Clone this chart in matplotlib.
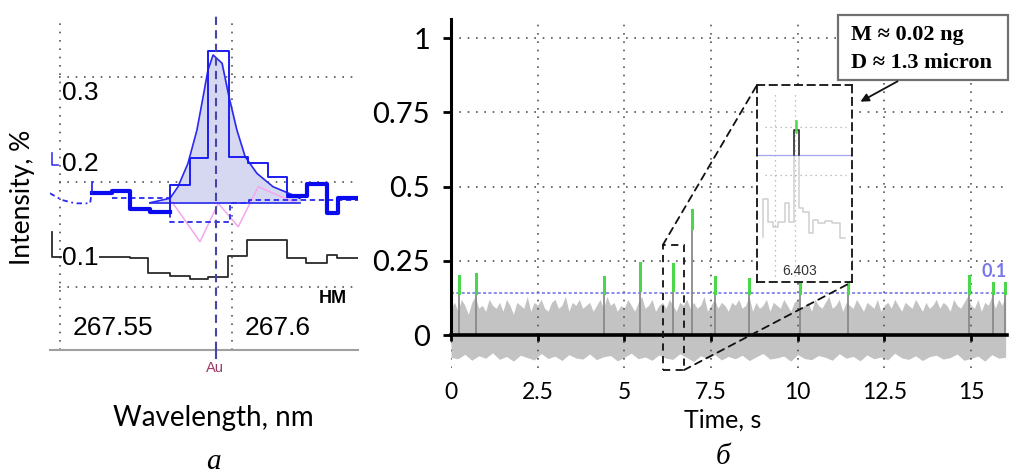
import numpy as np
import matplotlib
matplotlib.use('Agg')
import matplotlib.pyplot as plt
from matplotlib.patches import Rectangle, ConnectionPatch, FancyArrowPatch

plt.rcParams['font.family'] = ['Lato', 'DejaVu Sans']

W, H = 1012, 473

# ---------------- panel a : spectrum ----------------
wl_ticks = [267.55, 267.6]
wl_tick_labels = ['267.55', '267.6']
int_grid = [0.1, 0.2, 0.3]
int_labels = ['0.3', '0.2', '0.1']
au_line = 267.5954

black_x = [267.5478, 267.5478, 267.5705, 267.5757, 267.5821, 267.5879, 267.5932,
           267.5989, 267.6044, 267.6161, 267.6216, 267.6277, 267.6306, 267.6373]
black_y = [0.1521, 0.1283, 0.1273, 0.1130, 0.1101, 0.1073, 0.1092,
           0.1292, 0.1445, 0.1273, 0.1226, 0.1302, 0.1273, 0.1273]

thick_left_x = [267.5593, 267.5652, 267.5705, 267.5763, 267.5821]
thick_left_y = [0.1890, 0.1911, 0.1737, 0.1714, 0.1714]
thick_right_x = [267.6167, 267.6218, 267.6277, 267.6310, 267.6373]
thick_right_y = [0.1864, 0.1978, 0.1699, 0.1848, 0.1848]

start_x = [267.5593, 267.5593]
start_y = [0.2000, 0.1890]
mark_x = [267.5478, 267.5478, 267.5496]
mark_y = [0.2273, 0.2159, 0.2159]

hist_x = [267.5821, 267.5821, 267.5879, 267.5932, 267.5993, 267.6048, 267.6106, 267.6160, 267.6167]
hist_y = [0.1714, 0.1969, 0.2223, 0.3248, 0.2238, 0.2181, 0.2048, 0.1857, 0.1864]

curve_x = [267.5763, 267.5821, 267.5844, 267.5873, 267.5899, 267.5917, 267.5931, 267.5946,
           267.5972, 267.5992, 267.6015, 267.6039, 267.6073, 267.6120, 267.6178, 267.6198]
curve_y = [0.1800, 0.1842, 0.1952, 0.2175, 0.2492, 0.2810, 0.3064, 0.3207,
           0.3128, 0.2810, 0.2492, 0.2238, 0.2080, 0.1952, 0.1873, 0.1842]
baseline = 0.1800

dash_x = [267.5652, 267.5821, 267.5821, 267.5995, 267.5995, 267.6050, 267.6050, 267.6373]
dash_y = [0.1845, 0.1845, 0.1619, 0.1619, 0.1794, 0.1794, 0.1830, 0.1830]
dot_x = [267.5472, 267.5507, 267.5545, 267.5589, 267.5593]
dot_y = [0.1890, 0.1826, 0.1794, 0.1794, 0.1890]

pink_x = [267.5826, 267.5908, 267.5961, 267.6019, 267.6077, 267.6189]
pink_y = [0.1810, 0.1429, 0.1794, 0.1571, 0.1952, 0.1794]

# ---------------- panel b : time signal ----------------
time_ticks = [0, 2.5, 5, 7.5, 10, 12.5, 15]
time_labels = ['0', '2.5', '5', '7.5', '10', '12.5', '15']
sig_ticks = [0, 0.25, 0.5, 0.75, 1]
sig_labels = ['0', '0.25', '0.5', '0.75', '1']
threshold = 0.141

noise_upper = [
    0.09, 0.11, 0.08, 0.12, 0.10, 0.07, 0.11, 0.13, 0.09, 0.10,
    0.08, 0.12, 0.10, 0.09, 0.11, 0.08, 0.12, 0.10, 0.07, 0.11,
    0.10, 0.09, 0.13, 0.08, 0.11, 0.10, 0.12, 0.09, 0.08, 0.11,
    0.12, 0.09, 0.10, 0.13, 0.08, 0.11, 0.10, 0.12, 0.09, 0.10,
    0.11, 0.08, 0.10, 0.12, 0.09, 0.13, 0.10, 0.11, 0.08, 0.10,
    0.09, 0.12, 0.10, 0.08, 0.11, 0.13, 0.09, 0.10, 0.12, 0.08,
    0.10, 0.11, 0.09, 0.12, 0.10, 0.08, 0.11, 0.10, 0.12, 0.09,
    0.11, 0.09, 0.10, 0.13, 0.08, 0.10, 0.12, 0.09, 0.11, 0.10,
    0.08, 0.11, 0.10, 0.12, 0.09, 0.10, 0.13, 0.08, 0.11, 0.09,
    0.10, 0.12, 0.08, 0.11, 0.10, 0.09, 0.12, 0.10, 0.08, 0.11,
    0.12, 0.09, 0.10, 0.11, 0.08, 0.12, 0.10, 0.09, 0.11, 0.13,
    0.09, 0.10, 0.12, 0.08, 0.11, 0.10, 0.09, 0.12, 0.10, 0.08,
    0.11, 0.10, 0.09, 0.12, 0.08, 0.10, 0.11, 0.09, 0.12, 0.10,
    0.08, 0.11, 0.10, 0.09, 0.12, 0.10, 0.08, 0.11, 0.09, 0.10,
    0.12, 0.09, 0.11, 0.10, 0.08, 0.12, 0.10, 0.09, 0.11, 0.13,
    0.10, 0.09, 0.12, 0.08, 0.11, 0.10, 0.13, 0.09, 0.12, 0.10, 0.14]
noise_lower = [
    -0.075, -0.080, -0.065, -0.085, -0.070, -0.078, -0.060, -0.082, -0.072, -0.088,
    -0.068, -0.076, -0.084, -0.062, -0.079, -0.071, -0.086, -0.066, -0.077, -0.081,
    -0.064, -0.083, -0.073, -0.069, -0.087, -0.075, -0.061, -0.080, -0.074, -0.085,
    -0.067, -0.078, -0.082, -0.063, -0.076, -0.089, -0.070, -0.079, -0.065, -0.084,
    -0.072, -0.080, -0.068, -0.086, -0.074, -0.062, -0.081, -0.077, -0.071, -0.088,
    -0.066, -0.079, -0.083, -0.069, -0.075, -0.085, -0.063, -0.078, -0.072, -0.087,
    -0.067, -0.080, -0.074, -0.084, -0.061, -0.077, -0.082, -0.070, -0.086, -0.073,
    -0.068, -0.081, -0.076, -0.064, -0.085, -0.079, -0.071, -0.088, -0.066, -0.078, -0.075]

peak_t = [0.23, 0.72, 4.41, 5.45, 6.40, 6.94, 7.61, 8.60, 10.07, 11.45, 14.94, 15.63, 15.98]
peak_top = [0.199, 0.205, 0.195, 0.243, 0.240, 0.420, 0.195, 0.190, 0.175, 0.175, 0.200, 0.175, 0.175]
peak_green_lo = [0.141, 0.141, 0.141, 0.150, 0.150, 0.360, 0.141, 0.141, 0.141, 0.141, 0.141, 0.141, 0.141]

zoom_t = [6.11, 6.72]
zoom_i = [-0.118, 0.303]

# inset (zoom around the particle at 6.403 s)
ins_edges = [6.3366, 6.3366, 6.3466, 6.3566, 6.3666, 6.380, 6.3886, 6.398, 6.408, 6.4166,
             6.4286, 6.4366, 6.4466, 6.460, 6.4734, 6.490, 6.500]
ins_levels = [-0.030, 0.0489, 0.0023, -0.0081, 0.0023, 0.0405, 0.0023, 0.193, 0.0301, 0.0231,
              -0.0219, 0.0058, 0.0002, 0.0043, 0.0002, -0.0323, -0.0323]
spike_t = [6.398, 6.408]
spike_top = 0.193
spike_green = [0.189, 0.212]
spike_center = 6.403
ins_xgrid = [6.36, 6.40]
ins_ygrid = [0.1, 0.2]

# ---------------- figure ----------------
fig = plt.figure(figsize=(W / 100, H / 100), dpi=100)


def fx(px):
    return px / W


def fy(py):
    return 1 - py / H


GRID_LS = (0, (1, 4))

# ===== panel a =====
ax1 = fig.add_axes([fx(50), fy(350), (358 - 50) / W, (350 - 13) / H])
ax1.set_xlim(267.54724, 267.63667)
ax1.set_ylim(0.0397, 0.3607)
for s in ['top', 'right', 'left']:
    ax1.spines[s].set_visible(False)
ax1.spines['bottom'].set_color('#a0a0a0')
ax1.spines['bottom'].set_linewidth(1.5)
ax1.set_xticks([])
ax1.set_yticks([])
for v in wl_ticks:
    ax1.axvline(v, ymin=0, ymax=0.97, color='#555', ls=GRID_LS, lw=1.2, zorder=0.5)
for v in int_grid:
    ax1.axhline(v, xmin=0.03, xmax=0.99, color='#555', ls=GRID_LS, lw=1.2, zorder=0.5)

ax1.fill_between(curve_x, baseline, curve_y, color='#d6d8f2', zorder=1)
ax1.plot(curve_x, curve_y, color='#2a2af0', lw=1.2, zorder=3)
ax1.plot([curve_x[0], curve_x[-1]], [baseline, baseline], color='#2a2af0', lw=1.2, zorder=3)
ax1.plot(pink_x, pink_y, color='#f4a6ee', lw=1.1, zorder=2)
ax1.plot(hist_x, hist_y, drawstyle='steps-post', color='#1c1cf0', lw=1.4, zorder=4)
ax1.plot(thick_left_x, thick_left_y, drawstyle='steps-post', color='#0a0af0', lw=3.0, zorder=4)
ax1.plot(thick_right_x, thick_right_y, drawstyle='steps-post', color='#0a0af0', lw=3.0, zorder=4)
ax1.plot(start_x, start_y, color='#1c1cf0', lw=1.2, zorder=4)
ax1.plot(mark_x, mark_y, color='#3a3af0', lw=1.2, zorder=4)
ax1.plot(dash_x, dash_y, color='#2a2af0', lw=1.3, ls=(0, (3, 2)), zorder=3)
ax1.plot(dot_x, dot_y, color='#2a2af0', lw=1.3, ls=(0, (3, 2, 1, 2)), zorder=3)
ax1.plot(black_x, black_y, drawstyle='steps-post', color='#2a2a2a', lw=1.3, zorder=3)
ax1.axvline(au_line, color='#4646a8', lw=1.5, ls=(0, (4, 2.5)), zorder=5, clip_on=False)
ax1.plot([au_line, au_line], [0.0397, 0.032], color='#4646a8', lw=1.5, clip_on=False, zorder=5)

fs_a = 19
fig.text(fx(62), fy(93), int_labels[0], fontsize=fs_a, family='Liberation Sans', va='center', ha='left')
fig.text(fx(62), fy(164), int_labels[1], fontsize=fs_a, family='Liberation Sans', va='center', ha='left',
         bbox=dict(facecolor='white', edgecolor='none', pad=0))
fig.text(fx(62), fy(258), int_labels[2], fontsize=fs_a, family='Liberation Sans', va='center', ha='left',
         bbox=dict(facecolor='white', edgecolor='none', pad=0))
fig.text(fx(113), fy(328), wl_tick_labels[0], fontsize=fs_a, family='Liberation Sans', va='center', ha='center')
fig.text(fx(278), fy(328), wl_tick_labels[1], fontsize=fs_a, family='Liberation Sans', va='center', ha='center')
fig.text(fx(333), fy(298), 'НМ', fontsize=13, family='Liberation Sans', fontweight='bold', va='center', ha='center')
fig.text(fx(215), fy(368), 'Au', fontsize=10.5, family='Liberation Sans', color='#9c3a6a', va='center', ha='center')
fig.text(fx(23), fy(197), 'Intensity, %', fontsize=19, rotation=90, va='center', ha='center')
fig.text(fx(213), fy(418), 'Wavelength, nm', fontsize=20, va='center', ha='center')
fig.text(fx(213), fy(462), 'a', fontsize=21, family='Liberation Serif', style='italic', va='center', ha='center')

# ===== panel b =====
ax2 = fig.add_axes([fx(451), fy(367.7), 556 / W, 349 / H])
ax2.set_xlim(0, 16.04)
ax2.set_ylim(-0.11, 1.065)
ax2.spines['top'].set_visible(False)
ax2.spines['right'].set_visible(False)
ax2.spines['left'].set_linewidth(2.2)
ax2.spines['left'].set_bounds(0, 1.065)
ax2.spines['bottom'].set_position(('data', 0))
ax2.spines['bottom'].set_linewidth(2.6)
ax2.set_xticks(time_ticks)
ax2.set_xticklabels(time_labels)
ax2.set_yticks(sig_ticks)
ax2.set_yticklabels(sig_labels)
ax2.tick_params(axis='y', length=6, width=2, pad=9, labelsize=21)
ax2.tick_params(axis='x', length=4, width=2, pad=30, labelsize=16.5)
ax2.grid(True, color='#555', ls=GRID_LS, lw=1.2)

t_up = np.arange(len(noise_upper)) * 0.1
t_lo = np.arange(len(noise_lower)) * 0.2
ax2.fill_between(t_up, 0, noise_upper, color='#c3c3c3', lw=0, zorder=1)
ax2.fill_between(t_lo, noise_lower, 0, color='#c3c3c3', lw=0, zorder=1)
ax2.axhline(threshold, color='#6c6cea', lw=1.1, ls=(0, (2, 1.5)), zorder=2)

for t, top, glo in zip(peak_t, peak_top, peak_green_lo):
    ax2.plot([t, t], [0, glo], color='#8a8a8a', lw=1.3, zorder=2.5)
    ax2.plot([t, t], [glo, top], color='#4cd64c', lw=2.2, zorder=3)

ax2.add_patch(Rectangle((zoom_t[0], zoom_i[0]), zoom_t[1] - zoom_t[0], zoom_i[1] - zoom_i[0],
                        fill=False, ec='#111', lw=1.3, ls=(0, (4, 3)), clip_on=False, zorder=4))

fig.text(fx(723), fy(420), 'Time, s', fontsize=18, va='center', ha='center')
fig.text(fx(723), fy(457), 'б', fontsize=21, family='Liberation Serif', style='italic', va='center', ha='center')
fig.text(fx(982), fy(271), '0.1', fontsize=13, fontweight='bold', color='#7878ee', va='center', ha='left')

# ===== inset =====
ins = fig.add_axes([fx(757), fy(282), 95 / W, 197 / H])
ins.set_xlim(6.324, 6.514)
ins.set_ylim(-0.123, 0.287)
ins.set_xticks([])
ins.set_yticks([])
for s in ins.spines.values():
    s.set_linestyle((0, (4, 3)))
    s.set_linewidth(1.3)
    s.set_edgecolor('#111')
for v in ins_xgrid:
    ins.axvline(v, ymin=0.03, ymax=0.97, color='#aaa', ls=(0, (1, 3)), lw=0.9)
for v in ins_ygrid:
    ins.axhline(v, xmin=0.08, xmax=0.94, color='#aaa', ls=(0, (1, 3)), lw=0.9)
ins.plot(ins_edges, ins_levels, drawstyle='steps-post', color='#cfcfcf', lw=1.1)
ins.axhline(threshold, color='#a4a4f0', lw=0.9)
ins.plot([spike_t[0], spike_t[0], spike_t[1], spike_t[1]],
         [threshold, spike_top, spike_top, threshold], color='#222', lw=1.1)
ins.plot([spike_center, spike_center], spike_green, color='#4cd64c', lw=1.8)
fig.text(fx(800), fy(271), '6.403', fontsize=10, color='#333', va='center', ha='center',
         family='Liberation Sans')

# connectors
for xyA, xyB in [((zoom_t[0], zoom_i[1]), (0, 1)), ((zoom_t[1], zoom_i[0]), (1, 0))]:
    cp = ConnectionPatch(xyA=xyA, coordsA=ax2.transData, xyB=xyB, coordsB=ins.transAxes,
                         color='#111', lw=1.3, ls=(0, (4, 3)), zorder=5)
    fig.add_artist(cp)

# annotation box
fig.add_artist(Rectangle((fx(838), fy(80)), (1008 - 838) / W, (80 - 15) / H,
                         transform=fig.transFigure, fc='white', ec='#707070', lw=1.6, zorder=6))
fig.text(fx(851), fy(35), 'M ≈ 0.02 ng', fontsize=16, fontweight='bold',
         family=['Liberation Serif', 'DejaVu Serif'], va='center', ha='left', zorder=7)
fig.text(fx(851), fy(63), 'D ≈ 1.3 micron', fontsize=16, fontweight='bold',
         family=['Liberation Serif', 'DejaVu Serif'], va='center', ha='left', zorder=7)
fig.add_artist(FancyArrowPatch((fx(900), fy(80)), (fx(858), fy(103)), transform=fig.transFigure,
                               arrowstyle='-|>', mutation_scale=12, color='#111', lw=1.3, zorder=6))

fig.savefig('out.png', dpi=100)
